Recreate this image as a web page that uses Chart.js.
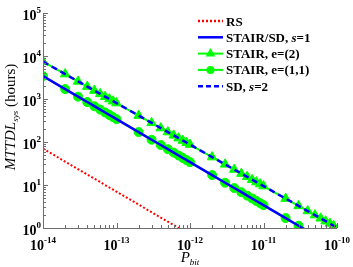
<!DOCTYPE html>
<html>
<head>
<meta charset="utf-8">
<script src="https://cdn.jsdelivr.net/npm/chart.js@4"></script>
<style>
  html, body { margin: 0; padding: 0; background: #fff; }
  #wrap { width: 353px; height: 267px; position: relative; }
</style>
</head>
<body>
<div id="wrap"><canvas id="chart"></canvas></div>
<script>
// bit error probability (1..9 per decade)
const pBit = [
  1e-14, 2e-14, 3e-14, 4e-14, 5e-14, 6e-14, 7e-14, 8e-14, 9e-14,
  1e-13, 2e-13, 3e-13, 4e-13, 5e-13, 6e-13, 7e-13, 8e-13, 9e-13,
  1e-12, 2e-12, 3e-12, 4e-12, 5e-12, 6e-12, 7e-12, 8e-12, 9e-12,
  1e-11, 2e-11, 3e-11, 4e-11, 5e-11, 6e-11, 7e-11, 8e-11, 9e-11,
  1e-10
];

// MTTDL_sys in hours
const rs = [
  70, 35, 23.3, 17.5, 14, 11.7, 10, 8.75, 7.78,
  7, 3.5, 2.33, 1.75, 1.4, 1.17, 1, 0.875, 0.778,
  0.7, null, null, null, null, null, null, null, null,
  null, null, null, null, null, null, null, null, null,
  null
];
const stairSd1 = [
  3400, 1700, 1133, 850, 680, 567, 486, 425, 378,
  340, 170, 113, 85, 68, 56.7, 48.6, 42.5, 37.8,
  34, 17, 11.3, 8.5, 6.8, 5.67, 4.86, 4.25, 3.78,
  3.4, 1.7, 1.13, 0.85, null, null, null, null, null,
  null
];
const stairE2 = [
  7413, 3798, 2569, 1945, 1569, 1316, 1134, 997, 890,
  804, 412, 279, 211, 170, 143, 123, 108, 96.5,
  87.1, 44.6, 30.2, 22.9, 18.4, 15.5, 13.3, 11.7, 10.5,
  9.44, 4.84, 3.27, 2.48, 2.0, 1.68, 1.44, 1.27, 1.13,
  null
];
const stairE11 = [
  3400, 1700, 1133, 850, 680, 567, 486, 425, 378,
  340, 170, 113, 85, 68, 56.7, 48.6, 42.5, 37.8,
  34, 17, 11.3, 8.5, 6.8, 5.67, 4.86, 4.25, 3.78,
  3.4, 1.7, 1.13, null, null, null, null, null, null,
  null
];
const sd2 = [
  7413, 3798, 2569, 1945, 1569, 1316, 1134, 997, 890,
  804, 412, 279, 211, 170, 143, 123, 108, 96.5,
  87.1, 44.6, 30.2, 22.9, 18.4, 15.5, 13.3, 11.7, 10.5,
  9.44, 4.84, 3.27, 2.48, 2.0, 1.68, 1.44, 1.27, 1.13,
  1.02
];

const xTickVals = [1e-14, 1e-13, 1e-12, 1e-11, 1e-10];
const xTickExps = ["-14", "-13", "-12", "-11", "-10"];
const yTickVals = [1, 10, 100, 1000, 10000, 100000];
const yTickExps = ["0", "1", "2", "3", "4", "5"];

const BLUE = "#0000ff";
const RED = "#ff0000";
const GREEN = "#00ff00";
const AXIS = "#6e6e6e";
const SERIF = "'Liberation Serif', 'DejaVu Serif', serif";

const toXY = (vals) => pBit.map((p, i) => ({ x: p, y: vals[i] }));

// legend rows: segments of [text, italic]
const legendItems = [
  { parts: [["RS", false]], color: RED, dash: [2, 2], marker: null },
  { parts: [["STAIR/SD, ", false], ["s", true], ["=1", false]], color: BLUE, dash: [], marker: null },
  { parts: [["STAIR, e=(2)", false]], color: GREEN, dash: [], marker: "triangle" },
  { parts: [["STAIR, e=(1,1)", false]], color: GREEN, dash: [], marker: "circle" },
  { parts: [["SD, ", false], ["s", true], ["=2", false]], color: BLUE, dash: [5, 3], marker: null },
];

const drawPow = (ctx, x, y, exp, isX) => {
  ctx.font = "bold 14px " + SERIF;
  const wBase = ctx.measureText("10").width;
  ctx.font = "bold 9px " + SERIF;
  const wExp = ctx.measureText(exp).width;
  ctx.fillStyle = "#000";
  ctx.textAlign = "left";
  ctx.textBaseline = "alphabetic";
  if (isX) {
    const left = x - (wBase + wExp) / 2;
    ctx.font = "bold 14px " + SERIF;
    ctx.fillText("10", left, 250);
    ctx.font = "bold 9px " + SERIF;
    ctx.fillText(exp, left + wBase, 243);
  } else {
    const right = 41;
    ctx.font = "bold 14px " + SERIF;
    ctx.fillText("10", right - wExp - wBase, y + 6.5);
    ctx.font = "bold 9px " + SERIF;
    ctx.fillText(exp, right - wExp, y);
  }
};

const axisDecor = {
  id: "axisDecor",
  afterDraw(chart) {
    const { ctx, chartArea: a, scales: { x, y } } = chart;
    ctx.save();
    ctx.strokeStyle = AXIS;
    ctx.lineWidth = 1;
    ctx.beginPath();
    // axis lines
    ctx.moveTo(a.left + 0.5, a.top);
    ctx.lineTo(a.left + 0.5, a.bottom + 0.5);
    ctx.lineTo(a.right, a.bottom + 0.5);
    // x ticks, pointing inward
    for (let e = -14; e <= -10; e++) {
      for (let k = 1; k <= 9; k++) {
        const v = k * Math.pow(10, e);
        if (v > 1.0001e-10) break;
        const px = Math.round(x.getPixelForValue(v)) + 0.5;
        const len = k === 1 ? 5 : 3;
        ctx.moveTo(px, a.bottom);
        ctx.lineTo(px, a.bottom - len);
      }
    }
    // y ticks
    for (let e = 0; e <= 5; e++) {
      for (let k = 1; k <= 9; k++) {
        const v = k * Math.pow(10, e);
        if (v > 1.0001e5) break;
        const py = Math.round(y.getPixelForValue(v)) + 0.5;
        const len = k === 1 ? 5 : 3;
        ctx.moveTo(a.left, py);
        ctx.lineTo(a.left + len, py);
      }
    }
    ctx.stroke();

    xTickVals.forEach((v, i) => drawPow(ctx, x.getPixelForValue(v), 0, xTickExps[i], true));
    yTickVals.forEach((v, i) => drawPow(ctx, 0, y.getPixelForValue(v), yTickExps[i], false));

    // x title: P_bit
    ctx.fillStyle = "#000";
    ctx.font = "italic 15px " + SERIF;
    const wP = ctx.measureText("P").width;
    ctx.font = "italic 9px " + SERIF;
    const wSub = ctx.measureText("bit").width;
    const xl = 190 - (wP + wSub) / 2;
    ctx.font = "italic 15px " + SERIF;
    ctx.fillText("P", xl, 262);
    ctx.font = "italic 9px " + SERIF;
    ctx.fillText("bit", xl + wP, 265);

    // y title: MTTDL_sys (hours)
    ctx.save();
    ctx.translate(15, 117);
    ctx.rotate(-Math.PI / 2);
    const segs = [
      ["MTTDL", "italic 15px ", 0],
      ["sys", "italic 9px ", 3],
      [" (hours)", "15px ", 0],
    ];
    let total = 0;
    segs.forEach(s => { ctx.font = s[1] + SERIF; total += ctx.measureText(s[0]).width; });
    let cx = -total / 2;
    segs.forEach(s => {
      ctx.font = s[1] + SERIF;
      ctx.fillText(s[0], cx, s[2]);
      cx += ctx.measureText(s[0]).width;
    });
    ctx.restore();

    // legend
    const lx0 = 198, lx1 = 223, tx = 226;
    legendItems.forEach((it, i) => {
      const cy = 21 + i * 16.3;
      ctx.save();
      ctx.strokeStyle = it.color;
      ctx.lineWidth = it.color === GREEN ? 2 : 2.5;
      ctx.setLineDash(it.dash);
      ctx.beginPath();
      ctx.moveTo(lx0, cy);
      ctx.lineTo(lx1, cy);
      ctx.stroke();
      ctx.restore();
      if (it.marker) {
        ctx.fillStyle = GREEN;
        ctx.beginPath();
        const mx = (lx0 + lx1) / 2;
        if (it.marker === "circle") {
          ctx.arc(mx, cy, 4, 0, Math.PI * 2);
        } else {
          ctx.moveTo(mx, cy - 5.5);
          ctx.lineTo(mx + 4.8, cy + 3);
          ctx.lineTo(mx - 4.8, cy + 3);
          ctx.closePath();
        }
        ctx.fill();
      }
      let px = tx;
      ctx.fillStyle = "#000";
      it.parts.forEach(([t, ital]) => {
        ctx.font = (ital ? "italic bold 13px " : "bold 13px ") + SERIF;
        ctx.fillText(t, px, cy + 4.5);
        px += ctx.measureText(t).width;
      });
    });
    ctx.restore();
  }
};

const lineSet = (vals, color, width, dash, style, radius) => ({
  data: toXY(vals),
  borderColor: color,
  backgroundColor: color,
  borderWidth: width,
  borderDash: dash,
  pointStyle: style || "circle",
  pointRadius: radius || 0,
  pointBorderWidth: 1,
  tension: 0,
  spanGaps: false,
});

new Chart(document.getElementById("chart"), {
  type: "line",
  data: {
    datasets: [
      // earlier datasets are painted on top
      lineSet(sd2, BLUE, 2.5, [6, 4]),
      lineSet(stairSd1, BLUE, 2.5, []),
      lineSet(rs, RED, 2, [2, 2]),
      lineSet(stairE2, GREEN, 2, [], "triangle", 5.5),
      lineSet(stairE11, GREEN, 2, [], "circle", 4.5),
    ],
  },
  options: {
    responsive: true,
    maintainAspectRatio: false,
    animation: false,
    layout: { padding: { left: 43, right: 16, top: 13, bottom: 39 } },
    plugins: { legend: { display: false }, tooltip: { enabled: false } },
    scales: {
      x: {
        type: "logarithmic",
        min: 1e-14,
        max: 1e-10,
        ticks: { display: false },
        grid: { display: false },
        border: { display: false },
        afterFit: (s) => { s.height = 0; },
      },
      y: {
        type: "logarithmic",
        min: 1,
        max: 1e5,
        ticks: { display: false },
        grid: { display: false },
        border: { display: false },
        afterFit: (s) => { s.width = 0; },
      },
    },
  },
  plugins: [axisDecor],
});
</script>
</body>
</html>
